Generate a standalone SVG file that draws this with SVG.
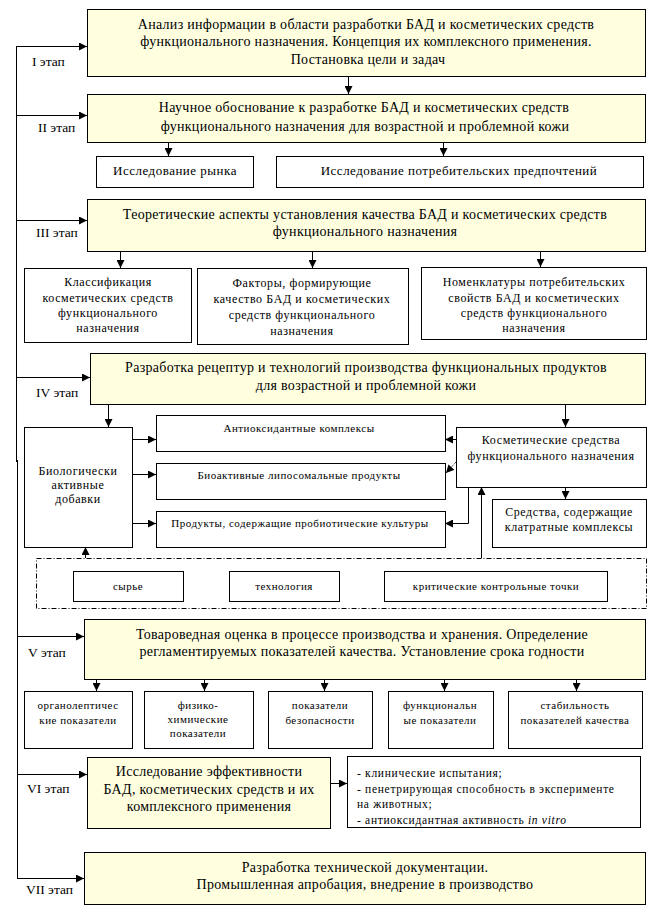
<svg xmlns="http://www.w3.org/2000/svg" width="659" height="913" viewBox="0 0 659 913" font-family="'Liberation Serif', 'Times New Roman', serif">
<defs>
<marker id="ah" markerUnits="userSpaceOnUse" markerWidth="9" markerHeight="8" refX="8" refY="4" orient="auto">
<path d="M0,0 L8,4 L0,8 z" fill="#000"/>
</marker>
<style>
.y{fill:#FFFFE0;stroke:#000;stroke-width:1}
.w{fill:#fff;stroke:#000;stroke-width:1}
.c{fill:none;stroke:#000;stroke-width:1;marker-end:url(#ah)}
.l{fill:none;stroke:#000;stroke-width:1}
text{font-family:'Liberation Serif', 'Times New Roman', serif;fill:#000}
.t14{font-size:14px;letter-spacing:0.3px;text-anchor:middle}
.t13{font-size:13px;letter-spacing:0.5px;text-anchor:middle}
.t12{font-size:12px;letter-spacing:0.6px;text-anchor:middle}
.t11{font-size:11px;letter-spacing:0.5px;text-anchor:middle}
.lb{font-size:13.5px}
.ls{font-size:11.5px;letter-spacing:0.7px}
</style>
</defs>
<rect width="659" height="913" fill="#fff"/>

<g id="connectors">
<path class="l" d="M16.5,46 V462"/>
<path class="l" d="M17.5,460 V878"/>
<path class="c" d="M16,46.5 H87"/>
<path class="c" d="M16,115.5 H87"/>
<path class="c" d="M16,220.5 H87"/>
<path class="c" d="M16,377.5 H90"/>
<path class="c" d="M17,636.5 H84"/>
<path class="c" d="M17,774.5 H87"/>
<path class="c" d="M17,878.5 H84"/>
<path class="c" d="M348.5,77 V94"/>
<path class="c" d="M168.5,142 V156"/>
<path class="c" d="M443.5,142 V156"/>
<path class="c" d="M120.5,251 V268"/>
<path class="c" d="M312.5,251 V268"/>
<path class="c" d="M540.5,251 V267"/>
<path class="c" d="M108.5,404 V427"/>
<path class="c" d="M565.5,404 V427"/>
<path class="c" d="M133,439.5 H156"/>
<path class="c" d="M133,474.5 H156"/>
<path class="c" d="M133,523.5 H156"/>
<path class="c" d="M456,439.5 H445"/>
<path class="c" d="M456,462 L446,473" stroke-dasharray="1,1"/>
<path class="c" d="M468.5,487 V523.5 H445"/>
<path class="c" d="M565.5,487 V499"/>
<path class="c" d="M481.5,558 V487"/>
<path class="c" d="M85.5,558 V547"/>
<path class="c" d="M96.5,679 V691"/>
<path class="c" d="M204.5,679 V691"/>
<path class="c" d="M324.5,679 V691"/>
<path class="c" d="M444.5,679 V691"/>
<path class="c" d="M576.5,679 V691"/>
<path class="c" d="M330,783.5 H347"/>
</g>

<g id="stage-labels">
<text class="lb" x="32" y="66">I этап</text>
<text class="lb" x="38" y="132">II этап</text>
<text class="lb" x="36" y="237">III этап</text>
<text class="lb" x="36" y="397">IV этап</text>
<text class="lb" x="28" y="657">V этап</text>
<text class="lb" x="27" y="793">VI этап</text>
<text class="lb" x="26" y="894">VII этап</text>
</g>

<g id="n1">
<rect class="y" x="87.5" y="9.5" width="558" height="67"/>
<text class="t14" x="366" y="29">Анализ информации в области разработки БАД и косметических средств</text>
<text class="t14" x="366" y="46">функционального назначения. Концепция их комплексного применения.</text>
<text class="t14" x="368" y="64">Постановка цели и задач</text>
</g>

<g id="n2">
<rect class="y" x="87.5" y="94.5" width="558" height="48"/>
<text class="t14" x="364" y="112">Научное обоснование к разработке БАД и косметических средств</text>
<text class="t14" x="365" y="131">функционального назначения для возрастной и проблемной кожи</text>
</g>

<g id="n2a">
<rect class="w" x="96.5" y="156.5" width="157" height="31"/>
<text class="t13" x="175" y="175">Исследование рынка</text>
</g>
<g id="n2b">
<rect class="w" x="276.5" y="156.5" width="367" height="31"/>
<text class="t13" x="459" y="175">Исследование потребительских предпочтений</text>
</g>

<g id="n3">
<rect class="y" x="87.5" y="199.5" width="558" height="52"/>
<text class="t14" x="365" y="219">Теоретические аспекты установления качества БАД и косметических средств</text>
<text class="t14" x="365" y="236">функционального назначения</text>
</g>

<g id="n3a">
<rect class="w" x="24.5" y="268.5" width="167" height="74"/>
<text class="t12" x="108" y="286">Классификация</text>
<text class="t12" x="108" y="302">косметических средств</text>
<text class="t12" x="108" y="317">функционального</text>
<text class="t12" x="108" y="332">назначения</text>
</g>
<g id="n3b">
<rect class="w" x="197.5" y="268.5" width="211" height="76"/>
<text class="t12" x="302" y="287">Факторы, формирующие</text>
<text class="t12" x="302" y="303">качество БАД и косметических</text>
<text class="t12" x="302" y="319">средств функционального</text>
<text class="t12" x="302" y="335">назначения</text>
</g>
<g id="n3c">
<rect class="w" x="421.5" y="267.5" width="225" height="72"/>
<text class="t12" x="534" y="286">Номенклатуры потребительских</text>
<text class="t12" x="534" y="302">свойств БАД и косметических</text>
<text class="t12" x="534" y="317">средств функционального</text>
<text class="t12" x="534" y="332">назначения</text>
</g>

<g id="n4">
<rect class="y" x="90.5" y="353.5" width="555" height="51"/>
<text class="t14" x="366" y="372">Разработка рецептур и технологий производства функциональных продуктов</text>
<text class="t14" x="366" y="390">для возрастной и проблемной кожи</text>
</g>

<g id="n4-bio">
<rect class="w" x="24.5" y="427.5" width="108" height="120"/>
<text class="t12" x="78" y="475">Биологически</text>
<text class="t12" x="78" y="489">активные</text>
<text class="t12" x="78" y="503">добавки</text>
</g>
<g id="n4-antiox">
<rect class="w" x="156.5" y="415.5" width="289" height="36"/>
<text class="t11" x="299" y="432">Антиоксидантные комплексы</text>
</g>
<g id="n4-lipo">
<rect class="w" x="156.5" y="463.5" width="289" height="36"/>
<text class="t11" x="299" y="479">Биоактивные липосомальные продукты</text>
</g>
<g id="n4-probio">
<rect class="w" x="156.5" y="511.5" width="289" height="36"/>
<text class="t11" x="300" y="527">Продукты, содержащие пробиотические культуры</text>
</g>
<g id="n4-cosm">
<rect class="w" x="456.5" y="427.5" width="190" height="60"/>
<text class="t12" x="551" y="444">Косметические средства</text>
<text class="t12" x="551" y="460" letter-spacing="0.2">функционального назначения</text>
</g>
<g id="n4-clath">
<rect class="w" x="492.5" y="499.5" width="154" height="48"/>
<text class="t12" x="569" y="516" letter-spacing="0.1">Средства, содержащие</text>
<text class="t12" x="569" y="531" letter-spacing="0.1">клатратные комплексы</text>
</g>

<g id="n4-factors">
<rect x="36.5" y="558.5" width="610" height="50" fill="none" stroke="#000" stroke-dasharray="5,2,1,2"/>
<g id="n4-raw">
<rect class="w" x="73.5" y="571.5" width="110" height="30"/>
<text class="t11" x="128" y="590">сырье</text>
</g>
<g id="n4-tech">
<rect class="w" x="229.5" y="571.5" width="110" height="30"/>
<text class="t11" x="284" y="590">технология</text>
</g>
<g id="n4-ccp">
<rect class="w" x="384.5" y="571.5" width="223" height="30"/>
<text class="t11" x="496" y="590">критические контрольные точки</text>
</g>
</g>

<g id="n5">
<rect class="y" x="84.5" y="619.5" width="561" height="60"/>
<text class="t14" x="362" y="639">Товароведная оценка в процессе производства и хранения. Определение</text>
<text class="t14" x="362" y="656">регламентируемых показателей качества. Установление срока годности</text>
</g>

<g id="n5a">
<rect class="w" x="24.5" y="691.5" width="108" height="57"/>
<text class="t11" x="78" y="709">органолептичес</text>
<text class="t11" x="78" y="724">кие показатели</text>
</g>
<g id="n5b">
<rect class="w" x="144.5" y="691.5" width="109" height="57"/>
<text class="t11" x="198" y="709">физико-</text>
<text class="t11" x="198" y="723">химические</text>
<text class="t11" x="198" y="737">показатели</text>
</g>
<g id="n5c">
<rect class="w" x="268.5" y="691.5" width="104" height="57"/>
<text class="t11" x="320" y="709">показатели</text>
<text class="t11" x="320" y="724">безопасности</text>
</g>
<g id="n5d">
<rect class="w" x="388.5" y="691.5" width="105" height="57"/>
<text class="t11" x="440" y="709">функциональн</text>
<text class="t11" x="440" y="724">ые показатели</text>
</g>
<g id="n5e">
<rect class="w" x="508.5" y="691.5" width="134" height="57"/>
<text class="t11" x="575" y="709" letter-spacing="0.8">стабильность</text>
<text class="t11" x="575" y="724" letter-spacing="0.8">показателей качества</text>
</g>

<g id="n6">
<rect class="y" x="87.5" y="757.5" width="243" height="71"/>
<text class="t14" x="209" y="776" letter-spacing="0.6">Исследование эффективности</text>
<text class="t14" x="209" y="794" letter-spacing="0.6">БАД, косметических средств и их</text>
<text class="t14" x="209" y="811" letter-spacing="0.6">комплексного применения</text>
</g>
<g id="n6-list">
<rect class="w" x="347.5" y="756.5" width="293" height="71"/>
<text class="ls" x="357" y="777">- клинические испытания;</text>
<text class="ls" x="357" y="793">- пенетрирующая способность в эксперименте</text>
<text class="ls" x="357" y="808">на животных;</text>
<text class="ls" x="357" y="824">- антиоксидантная активность <tspan font-style="italic">in vitro</tspan></text>
</g>

<g id="n7">
<rect class="y" x="84.5" y="852.5" width="561" height="52"/>
<text class="t14" x="365" y="872">Разработка технической документации.</text>
<text class="t14" x="365" y="889">Промышленная апробация, внедрение в производство</text>
</g>
</svg>
